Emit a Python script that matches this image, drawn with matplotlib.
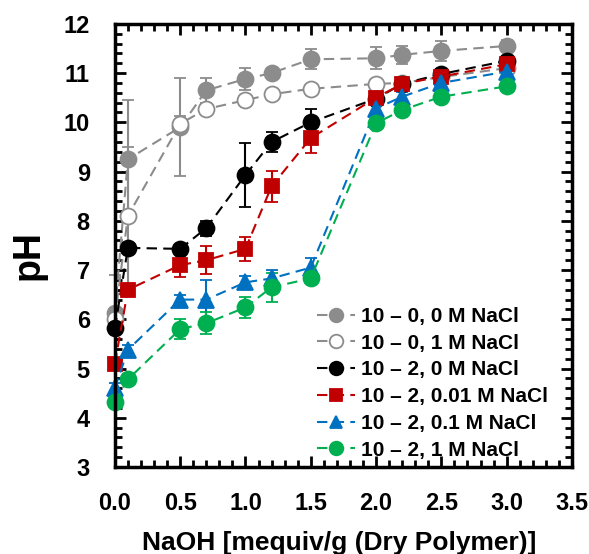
import matplotlib
matplotlib.use("Agg")
import matplotlib.pyplot as plt
from matplotlib.ticker import MultipleLocator

plt.rcParams['font.family'] = ['Liberation Sans', 'DejaVu Sans']
plt.rcParams['font.weight'] = 'bold'

x = [0.0, 0.1, 0.5, 0.7, 1.0, 1.2, 1.5, 2.0, 2.2, 2.5, 3.0]

labels = ["10 \u2013 0, 0 M NaCl", "10 \u2013 0, 1 M NaCl", "10 \u2013 2, 0 M NaCl",
          "10 \u2013 2, 0.01 M NaCl", "10 \u2013 2, 0.1 M NaCl", "10 \u2013 2, 1 M NaCl"]

ph_100_0M = [6.12, 9.25, 9.9, 10.65, 10.88, 11.0, 11.28, 11.3, 11.37, 11.45, 11.55]
err_100_0M = [0.1, 1.2, 1.0, 0.25, 0.22, 0.1, 0.2, 0.22, 0.18, 0.2, 0.12]
ph_100_1M = [6.0, 8.1, 9.97, 10.27, 10.45, 10.57, 10.68, 10.78, 10.8, 10.92, 11.1]
err_100_1M = [0.9, 1.4, 0.15, 0.1, 0.1, 0.08, 0.08, 0.1, 0.08, 0.08, 0.08]
ph_102_0M = [5.82, 7.45, 7.43, 7.85, 8.93, 9.6, 10.0, 10.48, 10.78, 10.98, 11.25]
err_102_0M = [0.1, 0.1, 0.05, 0.15, 0.65, 0.2, 0.28, 0.1, 0.08, 0.1, 0.1]
ph_102_001M = [5.1, 6.6, 7.1, 7.2, 7.43, 8.7, 9.68, 10.5, 10.78, 10.93, 11.18]
err_102_001M = [0.1, 0.1, 0.25, 0.28, 0.25, 0.32, 0.3, 0.12, 0.1, 0.1, 0.1]
ph_102_01M = [4.6, 5.38, 6.4, 6.4, 6.75, 6.83, 7.05, 10.28, 10.52, 10.8, 11.03]
err_102_01M = [0.1, 0.1, 0.1, 0.4, 0.12, 0.18, 0.2, 0.1, 0.1, 0.1, 0.08]
ph_102_1M = [4.32, 4.78, 5.8, 5.92, 6.24, 6.65, 6.83, 9.98, 10.25, 10.52, 10.73]
err_102_1M = [0.08, 0.1, 0.2, 0.22, 0.22, 0.3, 0.1, 0.1, 0.08, 0.08, 0.08]

series = [
    (ph_100_0M, err_100_0M, '#8c8c8c', 'o', '#8c8c8c'),
    (ph_100_1M, err_100_1M, '#8c8c8c', 'o', 'white'),
    (ph_102_0M, err_102_0M, 'black', 'o', 'black'),
    (ph_102_001M, err_102_001M, '#c00000', 's', '#c00000'),
    (ph_102_01M, err_102_01M, '#0070c0', '^', '#0070c0'),
    (ph_102_1M, err_102_1M, '#00b050', 'o', '#00b050'),
]

fig = plt.figure(figsize=(5.89, 5.54), dpi=100)
ax = fig.add_axes([0.195, 0.157, 0.776, 0.8])

for (y, e, c, m, fc), lab in zip(series, labels):
    ms = {'o': 11.5, 's': 10.5, '^': 11}[m]
    cont = ax.errorbar(x, y, yerr=e, color=c, marker=m, markerfacecolor=fc,
                       markeredgecolor=c, markersize=ms, markeredgewidth=1.3,
                       linestyle=(0, (5, 3)), linewidth=1.5, elinewidth=1.5,
                       capsize=4, capthick=1.5, label=lab)
    for art in [cont[0], *cont[1], *cont[2]]:
        art.set_clip_on(False)

ax.set_xlim(0, 3.5)
ax.set_ylim(3, 12)
ax.xaxis.set_major_locator(MultipleLocator(0.5))
ax.xaxis.set_minor_locator(MultipleLocator(0.1))
ax.yaxis.set_major_locator(MultipleLocator(1))
ax.yaxis.set_minor_locator(MultipleLocator(0.2))
ax.tick_params(which='both', direction='in', top=True, right=True, width=2)
ax.tick_params(which='major', length=8, labelsize=17)
ax.tick_params(axis='x', which='major', pad=18)
ax.tick_params(axis='y', which='major', pad=18)
ax.tick_params(which='minor', length=5)
for lbl in ax.get_xticklabels() + ax.get_yticklabels():
    lbl.set_fontweight('bold')
for s in ax.spines.values():
    s.set_linewidth(2.5)

ax.set_xlabel("NaOH [mequiv/g (Dry Polymer)]", fontsize=19, fontweight='bold')
ax.xaxis.set_label_coords(0.49, -0.145)
ax.set_ylabel("pH", fontsize=27, fontweight='bold')
ax.yaxis.set_label_coords(-0.15, 0.478)

handles, labs = ax.get_legend_handles_labels()
handles = [h[0] for h in handles]
leg = fig.legend(handles, labs, loc='upper left', frameon=False,
                 bbox_to_anchor=(317 / 589, 1 - 307 / 554),
                 prop={'weight': 'bold', 'size': 15}, handlelength=1.8,
                 handletextpad=0.3, labelspacing=0.37, borderpad=0,
                 borderaxespad=0, markerscale=0.85)

fig.savefig("out.png", dpi=100)
